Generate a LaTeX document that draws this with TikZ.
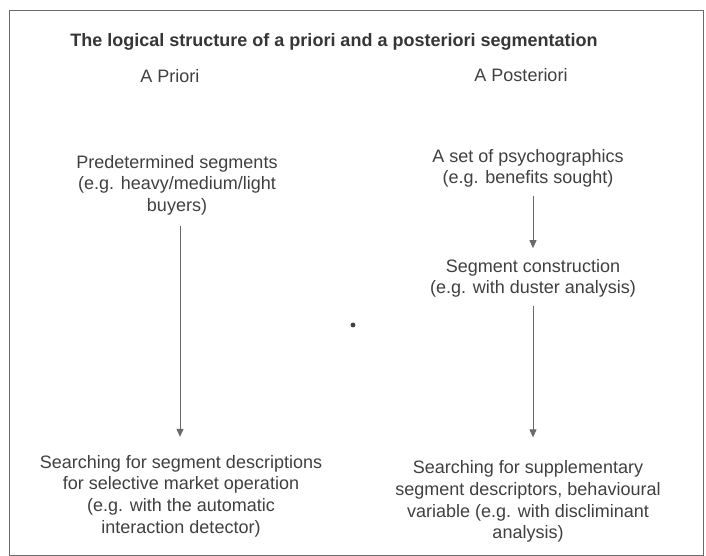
\documentclass[tikz,border=0pt]{standalone}
\usepackage{fontspec}
\setmainfont{Liberation Sans}
\usetikzlibrary{arrows.meta}
\definecolor{ink}{HTML}{404040}
\definecolor{rule}{HTML}{6A6A6A}
\begin{document}
\begin{tikzpicture}[x=1pt,y=-1pt,
  label text/.style={font=\fontsize{18}{21.5}\selectfont, text=ink, align=center, inner sep=0pt},
  wide text/.style={label text, font=\fontsize{18}{21.7}\selectfont},
  heading/.style={font=\bfseries\fontsize{18}{21.5}\selectfont, text=ink!85!black, inner sep=0pt},
  flow/.style={draw=rule, line width=0.9pt, -{Triangle[length=8pt,width=7pt]}},
]
\useasboundingbox (0,0) rectangle (706,556);
\fill[white] (0,0) rectangle (706,556);
% outer frame
\draw[rule, line width=0.8pt] (9,10) rectangle (703,555);

% heading and column titles
\node[heading] (title) at (334,42) {The logical structure of a priori and a posteriori segmentation};
\node[label text] (apriori) at (170,76) {A Priori};
\node[label text] (aposteriori) at (521,75) {A Posteriori};

% a priori column
\node[label text] (pre) at (177,185) {Predetermined segments\\(e.g. heavy/medium/light\\buyers)};
\node[wide text] (srchL) at (181,496) {Searching for segment descriptions\\for selective market operation\\(e.g. with the automatic\\interaction detector)};

% a posteriori column
\node[label text] (psy) at (528,168.5) {A set of psychographics\\(e.g. benefits sought)};
\node[label text] (seg) at (533,278.5) {Segment construction\\(e.g. with duster analysis)};
\node[wide text] (srchR) at (528,501.5) {Searching for supplementary\\segment descriptors, behavioural\\variable (e.g. with discliminant\\analysis)};

% connectors
\draw[flow, shorten <=11pt, shorten >=18pt] ([xshift=3pt]pre.south) -- ([xshift=3pt]pre.south |- srchL.north);
\draw[flow, shorten <=8pt, shorten >=11pt] ([xshift=5pt]psy.south) -- ([xshift=5pt]psy.south |- seg.north);
\draw[flow, shorten <=8pt, shorten >=23pt] (seg.south) -- (seg.south |- srchR.north);

% small ink speck
\fill[ink] (353,325) circle (2.4);
\end{tikzpicture}
\end{document}
